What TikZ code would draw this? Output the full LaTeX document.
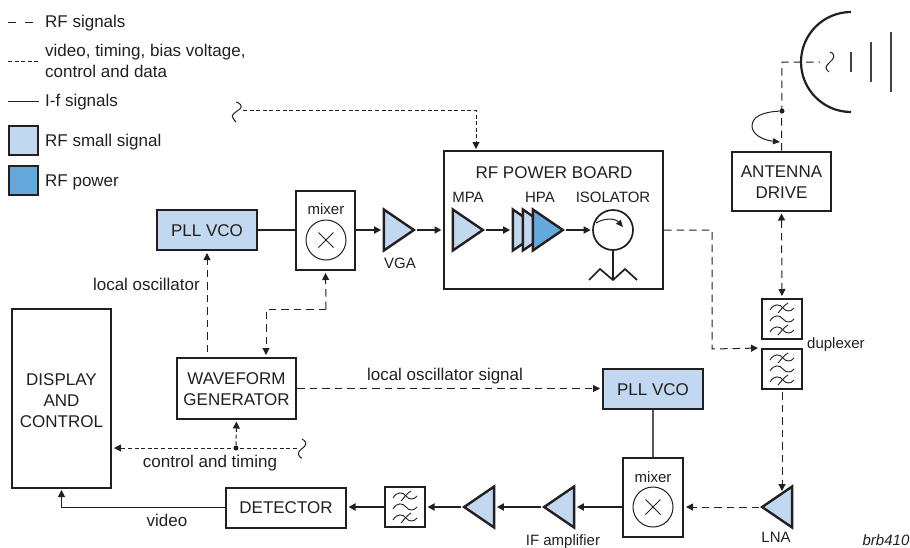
\documentclass[tikz,border=0pt]{standalone}
\usepackage{fontspec}
\setmainfont{Liberation Sans}
\usetikzlibrary{arrows.meta,shapes.geometric,calc}
\definecolor{ink}{HTML}{231F20}
\definecolor{small}{HTML}{C1D8F0}
\definecolor{power}{HTML}{65A8DB}
\newcommand\fs{\fontsize{17}{21}\selectfont}
\newcommand\fsm{\fontsize{15}{17}\selectfont}
\tikzset{
  txt/.style={font=\fs,text=ink,inner sep=0pt,align=center},
  stxt/.style={font=\fsm,text=ink,inner sep=0pt,align=center},
  lbl/.style={txt,anchor=west,align=left},
  box/.style={draw=ink,line width=2pt,fill=white,font=\fs,text=ink,align=center,inner sep=0pt},
  rfbox/.style={box,fill=small},
  tri/.style={isosceles triangle,isosceles triangle stretches=true,minimum height=30pt,minimum width=41pt,
     inner sep=0pt,draw=ink,line width=2.4pt,line join=miter,anchor=apex},
  tril/.style={tri,shape border rotate=180},
  head/.style={-{Triangle[length=7pt,width=7pt]}},
  solidarrow/.style={draw=ink,line width=1.7pt,head,shorten >=1.5pt},
  rfd/.style={draw=ink,line width=1pt,dash pattern=on 7.5pt off 5pt},
  ctd/.style={draw=ink,line width=1pt,dash pattern=on 4pt off 2.6pt},
  thin1/.style={draw=ink,line width=1pt},
  xcircle/.style={circle,draw=ink,line width=1pt,minimum size=40pt,inner sep=0pt},
  dot/.style={circle,fill=ink,inner sep=0pt,minimum size=5pt},
  filt/.pic={
    \foreach \y in {-11,0,11}{
      \draw[ink,line width=.9pt] (-12,\y+2) .. controls (-8,\y-5) and (-2,\y-4) .. (1,\y) .. controls (4,\y+4) and (9,\y+4) .. (12,\y);
    }
    \foreach \y in {-11,11}{
      \draw[ink,line width=.9pt] (-4,\y+5) .. controls (-2,\y+3) and (2,\y-3) .. (6,\y-5);
    }
  }
}
\begin{document}
\begin{tikzpicture}[x=1pt,y=-1pt]
\useasboundingbox (0,0) rectangle (910,547);

% legend
\coordinate (l1a) at (8,22); \coordinate (l1b) at (33,22);
\draw[rfd,dash pattern=on 8pt off 9pt] (l1a) -- (l1b);
\node[lbl] (l1) at (45,23.5) {RF signals};
\coordinate (l2a) at (8,61); \coordinate (l2b) at (39,61);
\draw[ctd] (l2a) -- (l2b);
\node[lbl] (l2) at (45,61) {video, timing, bias voltage,\\control and data};
\coordinate (l3a) at (8,101); \coordinate (l3b) at (39,101);
\draw[thin1] (l3a) -- (l3b);
\node[lbl] (l3) at (45,102.5) {I-f signals};
\node[box,fill=small,minimum size=29pt] (s1) at (23.5,140.5) {};
\node[lbl] (l4) at (45,142.5) {RF small signal};
\node[box,fill=power,minimum size=29pt] (s2) at (23.5,180.5) {};
\node[lbl] (l5) at (45,182.5) {RF power};

% main boxes
\node[box,minimum width=219pt,minimum height=138pt] (board) at (553.5,220) {};
\node[txt] (boardt) at (554,173) {RF POWER BOARD};
\node[box,minimum width=99pt,minimum height=59pt] (drive) at (781.5,181) {};
\node[txt] (drivet) at (781.5,182) {ANTENNA\\DRIVE};
\node[rfbox,minimum width=100pt,minimum height=40pt] (vco1) at (207,230) {};
\node[txt] (vco1t) at (207,231) {PLL VCO};
\node[box,minimum width=59pt,minimum height=79pt] (mix1) at (325.5,230.5) {};
\node[stxt] (mix1t) at (326,209) {mixer};
\node[xcircle] (mix1c) at (326,240) {};
\node[box,minimum width=99pt,minimum height=179pt] (disp) at (61.5,398.5) {};
\node[txt] (dispt) at (61.5,400.5) {DISPLAY\\AND\\CONTROL};
\node[box,minimum width=119pt,minimum height=61pt] (wave) at (236.5,388.5) {};
\node[txt] (wavet) at (236.5,389.5) {WAVEFORM\\GENERATOR};
\node[rfbox,minimum width=100pt,minimum height=40pt] (vco2) at (653,389) {};
\node[txt] (vco2t) at (653,390) {PLL VCO};
\node[box,minimum width=60pt,minimum height=79pt] (mix2) at (653,497.5) {};
\node[stxt] (mix2t) at (653,477) {mixer};
\node[xcircle] (mix2c) at (653,507) {};
\node[box,minimum width=120pt,minimum height=40pt] (det) at (286,507.5) {DETECTOR};
\node[box,minimum width=40pt,minimum height=40pt] (flt) at (405,507) {};
\pic at (405,507) {filt};
\node[box,minimum width=40pt,minimum height=40pt] (dupA) at (782,319) {};
\pic at (782,319) {filt};
\node[box,minimum width=40pt,minimum height=40pt] (dupB) at (782,369) {};
\pic at (782,369) {filt};
\node[stxt,anchor=west] (dupt) at (807,345) {duplexer};

% crosses in mixers
\foreach \c in {mix1c,mix2c}{
  \draw[ink,line width=1pt] ([shift={(-7.5,-7.5)}]\c.center) -- ([shift={(7.5,7.5)}]\c.center);
  \draw[ink,line width=1pt] ([shift={(-7.5,7.5)}]\c.center) -- ([shift={(7.5,-7.5)}]\c.center);
}

% amplifiers
\node[tri,fill=small] (vga) at (417,230) {};
\node[stxt] (vgat) at (400,263) {VGA};
\node[tri,fill=small] (mpa) at (486,230) {};
\node[stxt] (mpat) at (468,197) {MPA};
\node[tri,fill=small] (hpa1) at (546,230) {};
\node[tri,fill=small] (hpa2) at (556,230) {};
\node[tri,fill=power] (hpa3) at (566,230) {};
\node[stxt] (hpat) at (540,197) {HPA};
\node[stxt] (isot) at (613,197) {ISOLATOR};
\node[circle,draw=ink,line width=1.7pt,minimum size=40pt,inner sep=0pt] (iso) at (613,230) {};
\draw[ink,line width=1pt,-{Triangle[length=7pt,width=6pt]}] (596,223) .. controls (604,218) and (615,218) .. (623,227);
\coordinate (zz) at (613,280);
\draw[thin1,line width=1.2pt] (iso.south) -- (zz);
\draw[ink,line width=1.7pt] (589,280) -- (600,269) -- (zz) -- (625,269) -- (637,280);

\node[tril,fill=small] (lna) at (759,507) {};
\node[stxt] (lnat) at (776,537) {LNA};
\node[tril,fill=small] (if1) at (541,507) {};
\node[stxt] (if1t) at (563,541.5) {IF amplifier};
\node[tril,fill=small] (if2) at (461,507) {};

% solid connectors
\draw[solidarrow] (mpa.apex) -- (hpa1.lower side);
\draw[solidarrow] (hpa3.apex) -- (iso.west);
\draw[draw=ink,line width=1.7pt] (vco1.east) -- (mix1.west |- vco1.east);
\draw[solidarrow] (mix1.east |- vga.apex) -- (vga.lower side);
\draw[solidarrow] (vga.apex) -- (board.west |- vga.apex);
\draw[draw=ink!75,line width=1.3pt] (vco2.south) -- (mix2.north);
\draw[solidarrow] (mix2.west |- mix2c) -- (if1.lower side);
\draw[solidarrow] (if1.apex) -- (if2.lower side);
\draw[solidarrow] (if2.apex) -- (flt.east);
\draw[solidarrow] (flt.west) -- (det.east |- flt.west);
\draw[thin1,head,shorten >=1pt] (det.west) -| (disp.south);

% dashed: antenna side
\node[dot] (pivot) at (782,111) {};
\coordinate (feedc) at (782,62);
\coordinate (feedend) at (820,62);
\draw[rfd] (drive.north) -- (feedc) -- (feedend);
\draw[draw=ink,line width=1pt] (830,52) .. controls (834,53) and (835,57) .. (832,60) .. controls (828,64) and (824,67) .. (827,70) -- (829,72);
\draw[ink,line width=1pt,-{Triangle[length=7pt,width=6pt]}] (pivot) .. controls (762,112) and (752,117) .. (752,126) .. controls (752,134) and (762,140) .. (780,142);
\draw[draw=ink,line width=2.2pt] (851,12) .. controls (823.4,12) and (801,34.4) .. (801,62) .. controls (801,89.6) and (823.4,112) .. (851,112);
\coordinate (w1a) at (851,52); \coordinate (w1b) at (851,72);
\coordinate (w2a) at (871,42); \coordinate (w2b) at (871,82);
\coordinate (w3a) at (891,32); \coordinate (w3b) at (891,92);
\draw[ink!85,line width=1.2pt] (w1a) -- (w1b) (w2a) -- (w2b) (w3a) -- (w3b);
\draw[rfd,{Triangle[length=7pt,width=7pt]}-{Triangle[length=7pt,width=7pt]},shorten >=2pt,shorten <=2pt] (drive.south) -- (dupA.north);
\coordinate (lnatop) at (782,491);
\draw[rfd,head,shorten <=2pt] (dupB.south) -- (lnatop);
\coordinate (c1) at (712,230);
\coordinate (c2) at (712,349);
\draw[rfd,head,shorten >=3pt] (board.east |- iso) -- (c1) -- (c2) -- (dupB.north west);
\draw[rfd,head,shorten >=2pt] (lna.apex) -- (mix2.east |- lna.apex);

% dashed: left side
\coordinate (sq1) at (243,110);
\coordinate (c3) at (476,110);
\draw[ctd,head,shorten >=1pt] (sq1) -- (c3) -- (board.north -| c3);
\draw[draw=ink,line width=1pt] (236,102) .. controls (240,103) and (243,106) .. (240,109) .. controls (236,112) and (230,115) .. (233,118) .. controls (234,120) and (235,121) .. (236,122);
\draw[rfd,head,shorten >=2pt,shorten <=5pt] (wave.north -| vco1.south) -- (vco1.south);
\node[txt,anchor=east] (lot) at (200,284) {local oscillator};
\coordinate (c4) at (326,309);
\coordinate (c5) at (266,309);
\draw[rfd,head,shorten >=2pt] (c4) -- (mix1.south);
\draw[rfd,head,shorten >=2pt] (c4) -- (c5) -- (wave.north -| c5);
\draw[rfd,head,shorten >=2pt] (wave.east) -- (vco2.west |- wave.east);
\node[txt] (lost) at (445,376.5) {local oscillator signal};
\node[dot] (ctl) at (236,448) {};
\coordinate (sq2) at (297,448);
\draw[ctd,head,shorten >=2pt] (sq2) -- (disp.east |- ctl);
\draw[ctd,head,shorten >=1.5pt] (ctl) -- (wave.south);
\draw[draw=ink,line width=1pt] (302,439) .. controls (306,441) and (307,444) .. (304,447) .. controls (300,450) and (296,453) .. (300,457) .. controls (301,458) and (302,458) .. (302,458);
\node[txt] (ctlt) at (210,463) {control and timing};
\node[txt] (vid) at (167,520) {video};
\node[stxt] (brb) at (886,540) {\itshape brb410};
\end{tikzpicture}
\end{document}
